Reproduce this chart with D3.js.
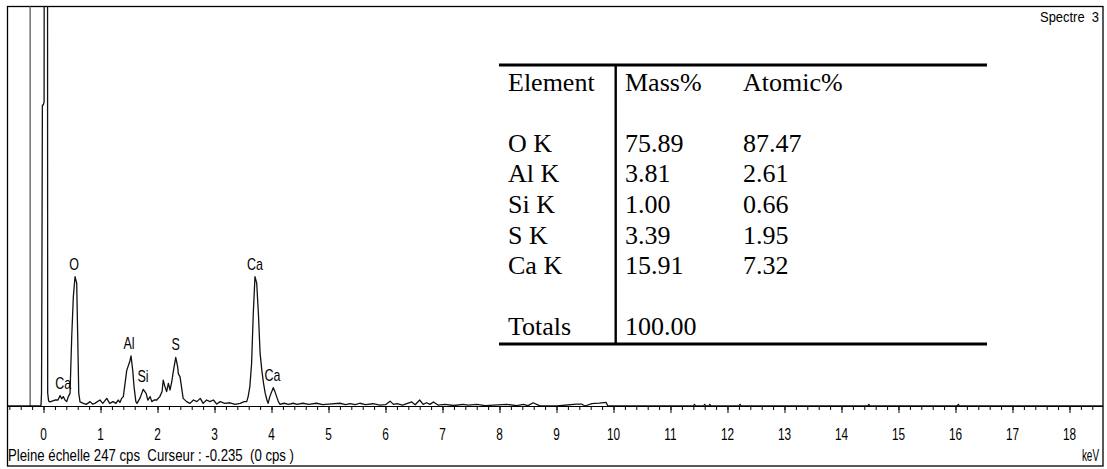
<!DOCTYPE html>
<html>
<head>
<meta charset="utf-8">
<script src="https://cdn.jsdelivr.net/npm/d3@7"></script>
<style>
  html, body { margin: 0; padding: 0; background: #fff; }
  svg { display: block; }
  .sans { font-family: "Liberation Sans", Arial, sans-serif; fill: #000; }
  .serif { font-family: "Liberation Serif", "Times New Roman", serif; fill: #000; }
</style>
</head>
<body>
<div id="chart"></div>
<script>
//Data
// EDS spectrum: energy (keV) and counts (cps)
const energyKeV = [
  -0.632, -0.045, -0.035, -0.03, -0.02, -0.005, 0.01, 0.013, 0.07, 0.073, 0.09, 0.114,
  0.2, 0.254, 0.29, 0.32, 0.347, 0.377, 0.407, 0.435, 0.465, 0.495, 0.523, 0.553,
  0.582, 0.6, 0.618, 0.64, 0.7, 0.75, 0.816, 0.86, 0.9, 0.99, 1.04, 1.11, 1.16, 1.22,
  1.27, 1.31, 1.34, 1.37, 1.40, 1.46, 1.517, 1.535, 1.565, 1.588, 1.62, 1.64, 1.69,
  1.72, 1.75, 1.8, 1.83, 1.87, 1.9, 1.94, 1.986, 2.04, 2.08, 2.1, 2.13, 2.16, 2.19,
  2.22, 2.25, 2.28, 2.32, 2.354, 2.365, 2.395, 2.42, 2.45, 2.51, 2.57, 2.63, 2.69,
  2.75, 2.8, 2.86, 2.92, 2.98, 3.04, 3.1, 3.18, 3.27, 3.36, 3.45, 3.52, 3.565, 3.59,
  3.62, 3.65, 3.68, 3.71, 3.74, 3.77, 3.8, 3.83, 3.86, 3.89, 3.92, 3.94, 3.97, 4.03,
  4.06, 4.09, 4.12, 4.15, 4.22, 4.3, 4.38, 4.45, 4.55, 4.65, 4.79, 4.9, 5.0, 5.2,
  5.3, 5.38, 5.47, 5.55, 5.65, 5.78, 5.9, 6.0, 6.08, 6.14, 6.2, 6.3, 6.46, 6.52, 6.6,
  6.66, 6.72, 6.78, 6.84, 6.92, 7.04, 7.2, 7.36, 7.45, 7.6, 7.75, 8.13, 8.3, 8.42,
  8.5, 8.59, 8.7, 9.0, 9.35, 9.44, 9.5, 9.62, 9.75, 9.87, 9.9, 11.4, 11.42, 11.44,
  11.58, 11.6, 11.62, 11.67, 11.69, 11.71, 12.2, 12.22, 12.24, 14.46, 14.48, 14.5,
  16.03, 16.05, 16.07, 18.588
];
const countsCps = [
  0, 0, 8, 60, 186, 186, 188, 320, 320, 8, 3, 2.6,
  3.7, 3.7, 6.4, 4.5, 5.8, 3.7, 2.7, 5.8, 7.8, 43, 67.5, 80,
  76, 43, 8, 2.5, 1.6, 1.0, 2.7, 1.2, 1.6, 3.7, 1.6, 4.7, 1.6, 2.7,
  1.6, 3.7, 2.2, 4.7, 5.8, 22, 28, 31, 22, 12, 2.7, 1.6, 4.7,
  7.5, 10.3, 7.8, 3.7, 5.8, 2.7, 3.7, 3.7, 5.8, 9, 16, 12, 8.9, 14,
  9.9, 15, 22, 30, 24, 20, 18, 12, 4.7, 2.7, 1.6, 3.7, 2.7,
  4.7, 1.6, 3.7, 2.7, 3.7, 1.2, 2.7, 1.6, 2.0, 1.0, 1.6, 2.7, 2.7, 5.8,
  12, 26, 57, 80, 76, 57, 32.5, 22, 14, 7.8, 3.7, 1.6, 5.8, 11.3,
  8.9, 5.8, 2.7, 1, 1.7, 1, 1.7, 1, 1.7, 1, 1.7, 0.8, 1.2, 1.7,
  0.8, 1.4, 0.8, 1.7, 0.8, 1.4, 0.6, 0.8, 3, 1, 1.4, 0.5, 2.5, 0.8, 3.7,
  1, 2, 1, 2.5, 0.6, 1, 0.3, 1, 0.6, 1, 0.2, 1, 0.2, 1,
  0.2, 2, 0.2, 0, 1.2, 1.2, 0, 1.5, 1.8, 2.3, 0, 0, 1, 0,
  0, 1, 0, 0, 1, 0, 0, 1, 0, 0, 1, 0,
  0, 1, 0, 0
];

// Peak labels
const peakNames = ['Ca', 'O', 'Al', 'Si', 'S', 'Ca', 'Ca'];
const peakKeV = [0.347, 0.535, 1.5, 1.745, 2.32, 3.71, 4.018];
const peakCps = [6.2, 80, 31, 10.3, 30, 80, 11.3];

// Axis
const keVTicks = [0, 1, 2, 3, 4, 5, 6, 7, 8, 9, 10, 11, 12, 13, 14, 15, 16, 17, 18];
const fullScaleCps = 247;
const cursorKeV = -0.235;
const cursorCps = 0;
const unitLabel = 'keV';

// Quantification table
const tableHeader = ['Element', 'Mass%', 'Atomic%'];
const elements = ['O K', 'Al K', 'Si K', 'S K', 'Ca K'];
const massPct = ['75.89', '3.81', '1.00', '3.39', '15.91'];
const atomicPct = ['87.47', '2.61', '0.66', '1.95', '7.32'];
const totalLabel = 'Totals';
const totalMass = '100.00';

const spectrumTitle = 'Spectre  3';

//Layout
const W = 1107, H = 469;
const frame = { left: 7.5, top: 6.5, right: 1103, bottom: 466 };
const axisY = 406.5;

const svg = d3.select('#chart').append('svg')
  .attr('width', W).attr('height', H);

const x = d3.scaleLinear().domain([-0.632, 18.588]).range([frame.left, frame.right]);
const y = d3.scaleLinear().domain([0, fullScaleCps]).range([axisY - 0.5, frame.top]);

svg.append('defs').append('clipPath').attr('id', 'plot-clip')
  .append('rect')
  .attr('x', frame.left).attr('y', frame.top)
  .attr('width', frame.right - frame.left).attr('height', axisY - frame.top);

// Frame
svg.append('rect')
  .attr('x', frame.left).attr('y', frame.top)
  .attr('width', frame.right - frame.left).attr('height', frame.bottom - frame.top)
  .attr('fill', 'none').attr('stroke', '#000').attr('stroke-width', 1.3);

// Cursor line
svg.append('line')
  .attr('x1', x(cursorKeV)).attr('x2', x(cursorKeV))
  .attr('y1', frame.top).attr('y2', axisY)
  .attr('stroke', '#666').attr('stroke-width', 1.4);

// Spectrum
const points = energyKeV.map((e, i) => ({ e, c: countsCps[i] }));
const line = d3.line().x(d => x(d.e)).y(d => y(d.c));
svg.append('path')
  .attr('clip-path', 'url(#plot-clip)')
  .attr('d', line(points))
  .attr('fill', 'none')
  .attr('stroke', '#111')
  .attr('stroke-width', 1.3)
  .attr('stroke-linejoin', 'round');

// Energy axis: minor ticks every 0.2 keV, major every 1 keV
const axisG = svg.append('g').attr('transform', `translate(0,${axisY})`);
axisG.call(d3.axisBottom(x).tickValues(d3.range(-0.6, 18.59, 0.2)).tickSize(3.5).tickFormat(''));
axisG.select('.domain').remove();
const majorG = svg.append('g').attr('transform', `translate(0,${axisY})`);
majorG.call(d3.axisBottom(x).tickValues(keVTicks).tickSize(6.5).tickFormat(''));
majorG.select('.domain').remove();
svg.selectAll('.tick line').attr('stroke', '#000').attr('stroke-width', 1);

svg.append('line')
  .attr('x1', frame.left).attr('x2', frame.right)
  .attr('y1', axisY).attr('y2', axisY)
  .attr('stroke', '#000').attr('stroke-width', 1.2);

svg.append('g').selectAll('text')
  .data(keVTicks)
  .join('text')
  .attr('class', 'sans')
  .attr('transform', d => `translate(${x(d)},440) scale(0.74,1)`)
  .attr('text-anchor', 'middle')
  .attr('font-size', 16)
  .text(d => d);

// Peak labels
svg.append('g').selectAll('text')
  .data(peakNames)
  .join('text')
  .attr('class', 'sans')
  .attr('transform', (d, i) => `translate(${x(peakKeV[i])},${y(peakCps[i]) - 7}) scale(0.78,1)`)
  .attr('text-anchor', 'middle')
  .attr('font-size', 16)
  .text(d => d);

// Status texts
svg.append('text')
  .attr('class', 'sans')
  .attr('x', 8).attr('y', 460.5)
  .attr('font-size', 17)
  .attr('textLength', 286).attr('lengthAdjust', 'spacingAndGlyphs')
  .style('white-space', 'pre')
  .text(`Pleine échelle ${fullScaleCps} cps  Curseur : ${cursorKeV}  (${cursorCps} cps )`);

svg.append('text')
  .attr('class', 'sans')
  .attr('transform', 'translate(1099,460.5) scale(0.62,1)')
  .attr('text-anchor', 'end')
  .attr('font-size', 16)
  .text(unitLabel);

svg.append('text')
  .attr('class', 'sans')
  .attr('x', 1099).attr('y', 22)
  .attr('text-anchor', 'end')
  .attr('font-size', 14)
  .attr('textLength', 59).attr('lengthAdjust', 'spacingAndGlyphs')
  .style('white-space', 'pre')
  .text(spectrumTitle);

//Table
const table = { left: 499, right: 987, top: 65, bottom: 344, divider: 615.7 };
const colX = [508, 625, 743];
const headerY = 91;
const rowY = d3.scaleLinear().domain([0, 4]).range([151.7, 274.3]);
const totalsY = 335;

const tg = svg.append('g');
tg.append('line')
  .attr('x1', table.left).attr('x2', table.right)
  .attr('y1', table.top).attr('y2', table.top)
  .attr('stroke', '#000').attr('stroke-width', 3);
tg.append('line')
  .attr('x1', table.left).attr('x2', table.right)
  .attr('y1', table.bottom).attr('y2', table.bottom)
  .attr('stroke', '#000').attr('stroke-width', 3);
tg.append('line')
  .attr('x1', table.divider).attr('x2', table.divider)
  .attr('y1', table.top).attr('y2', table.bottom)
  .attr('stroke', '#000').attr('stroke-width', 2.4);

tableHeader.forEach((h, i) => {
  tg.append('text').attr('class', 'serif')
    .attr('x', colX[i]).attr('y', headerY)
    .attr('font-size', 26).text(h);
});

const rows = elements.map((el, i) => [el, massPct[i], atomicPct[i]]);
rows.forEach((r, i) => {
  r.forEach((cell, j) => {
    tg.append('text').attr('class', 'serif')
      .attr('x', colX[j]).attr('y', rowY(i))
      .attr('font-size', 26).text(cell);
  });
});

tg.append('text').attr('class', 'serif')
  .attr('x', colX[0]).attr('y', totalsY).attr('font-size', 26).text(totalLabel);
tg.append('text').attr('class', 'serif')
  .attr('x', colX[1]).attr('y', totalsY).attr('font-size', 26).text(totalMass);
</script>
</body>
</html>
